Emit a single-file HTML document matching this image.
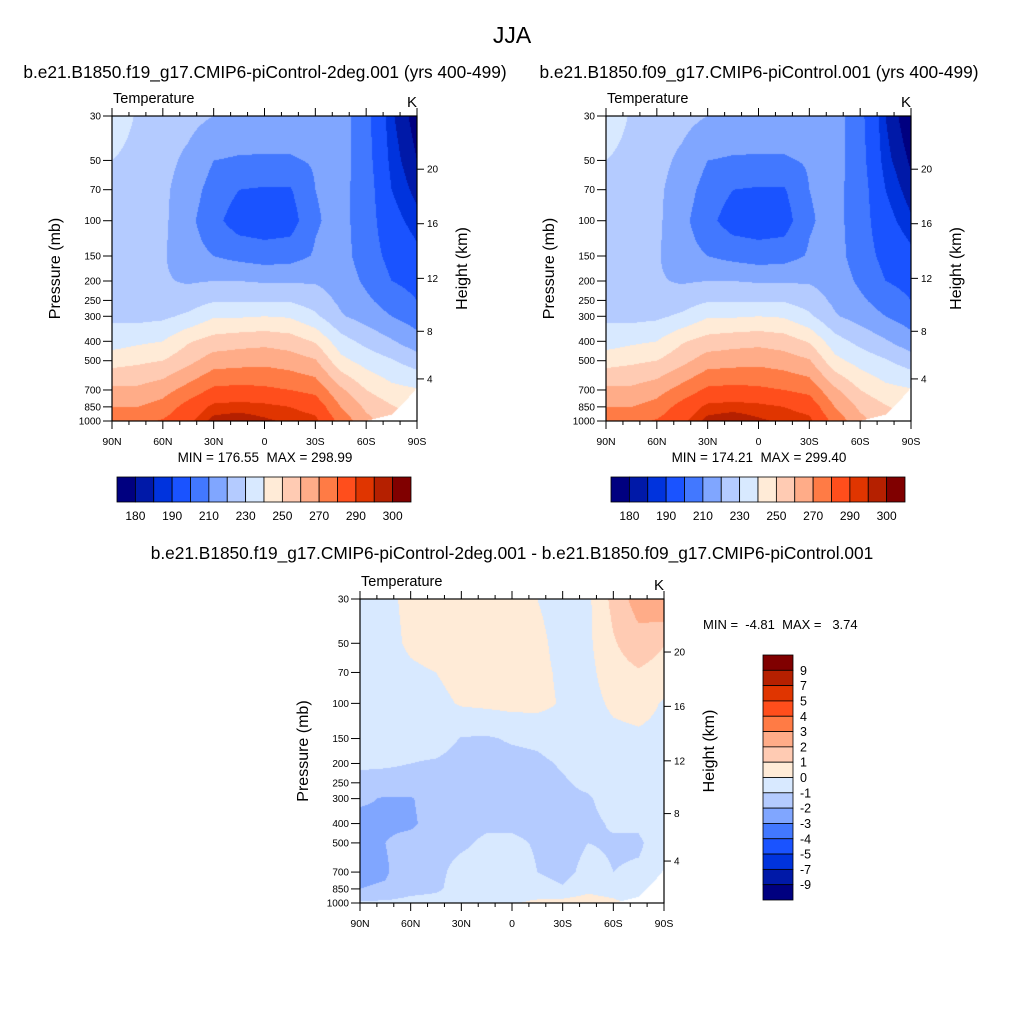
<!DOCTYPE html>
<html><head><meta charset="utf-8">
<style>
html,body{margin:0;padding:0;background:#fff;}
#root{position:relative;width:1024px;height:1024px;overflow:hidden;font-family:"Liberation Sans",sans-serif;}
canvas{position:absolute;}
svg{position:absolute;left:0;top:0;}
</style></head>
<body>
<div id="root">
<canvas id="cA" width="305" height="305" style="left:112px;top:116px"></canvas>
<canvas id="cB" width="305" height="305" style="left:606px;top:116px"></canvas>
<canvas id="cC" width="304" height="304" style="left:360px;top:599px"></canvas>
<svg id="ov" width="1024" height="1024" font-family="Liberation Sans, sans-serif">
<text x="512" y="43" font-size="23" text-anchor="middle">JJA</text>
<text x="265" y="78" font-size="17.3" text-anchor="middle">b.e21.B1850.f19_g17.CMIP6-piControl-2deg.001 (yrs 400-499)</text>
<text x="759" y="78" font-size="17.3" text-anchor="middle">b.e21.B1850.f09_g17.CMIP6-piControl.001 (yrs 400-499)</text>
<text x="512" y="559" font-size="17.3" text-anchor="middle">b.e21.B1850.f19_g17.CMIP6-piControl-2deg.001 - b.e21.B1850.f09_g17.CMIP6-piControl.001</text>
<text x="265" y="462" font-size="13.5" text-anchor="middle" xml:space="preserve">MIN = 176.55  MAX = 298.99</text>
<text x="759" y="462" font-size="13.5" text-anchor="middle" xml:space="preserve">MIN = 174.21  MAX = 299.40</text>
<text x="703" y="629" font-size="13" xml:space="preserve">MIN =  -4.81  MAX =   3.74</text>
</svg>
</div>
<script>
// ---- data ----
const lats = [90,75,60,45,30,15,0,-15,-30,-45,-60,-75,-90];
const plevs = [30,50,70,100,150,200,250,300,400,500,700,850,1000];
const tempA = [
[236,229,224,223,220,217,216,216,216,215,203,186,177],
[230,227,223,218,210,209,209,209,211,214,204,188,180],
[228,225,222,215,206,200,199,199,210,213,205,190,183],
[226,224,222,213,203,195,194,195,209,213,205,193,187],
[225,223,221,214,210,207,205,206,211,214,205,197,192],
[225,223,221,219,220,220,219,219,219,216,208,200,197],
[226,224,223,225,229,229,229,229,225,218,212,205,200],
[228,227,228,232,239,239,240,239,232,221,216,210,205],
[235,238,240,249,254,256,257,255,249,234,227,221,214],
[246,248,250,257,265,266,267,265,261,243,236,231,225],
[262,262,266,274,282,283,282,280,277,262,250,243,241],
[270,270,274,284,292,293,292,290,287,270,258,251,245],
[276,277,281,288,297,298,296,294,292,277,263,255,250]];
const tempB = [
[236,229,224,223,220,217,216,216,216,215,203,185,175],
[230,227,223,218,210,209,209,209,211,214,204,187,179],
[228,225,222,215,206,200,199,199,210,213,205,190,182],
[226,224,222,213,203,195,194,195,209,213,205,193,186],
[225,223,221,214,210,207,205,206,211,214,205,197,192],
[225,223,221,219,220,220,219,219,219,216,208,200,197],
[226,224,223,225,229,229,229,229,225,218,212,205,200],
[228,227,228,232,239,239,240,239,232,221,216,210,205],
[235,238,240,249,254,256,257,255,249,234,227,221,214],
[246,248,250,257,265,266,267,265,261,243,236,231,225],
[262,262,266,274,282,283,282,280,277,262,250,243,241],
[270,270,274,284,292,293,292,290,287,270,258,251,245],
[276,277,281,288,297,298.5,296,294,292,277,263,255,250]];
const diffC = [
[-0.5,-0.3,0.3,0.5,0.6,0.7,0.5,0.0,-0.5,-0.2,1.3,2.5,3.0],
[-0.5,-0.4,0.2,0.5,0.6,0.6,0.5,0.3,-0.4,-0.2,0.9,1.6,1.05],
[-0.4,-0.5,-0.2,0.0,0.4,0.5,0.5,0.3,-0.2,-0.3,0.6,0.9,0.6],
[-0.4,-0.5,-0.4,-0.3,0.1,0.2,0.3,0.3,-0.1,-0.4,0.2,0.4,-0.1],
[-0.5,-0.6,-0.6,-0.6,-1.05,-1.1,-0.9,-0.8,-0.5,-0.5,-0.3,-0.2,-0.3],
[-0.8,-0.9,-1.0,-1.1,-1.3,-1.3,-1.3,-1.2,-0.9,-0.6,-0.4,-0.3,-0.4],
[-1.4,-1.3,-1.3,-1.3,-1.4,-1.4,-1.4,-1.3,-1.1,-0.8,-0.5,-0.4,-0.5],
[-1.8,-2.1,-2.1,-1.4,-1.4,-1.4,-1.3,-1.3,-1.2,-1.1,-0.6,-0.5,-0.5],
[-2.4,-2.2,-2.2,-1.5,-1.3,-1.2,-1.2,-1.3,-1.4,-1.2,-0.9,-0.9,-0.5],
[-2.3,-2.0,-1.6,-1.4,-1.2,-0.8,-0.8,-1.1,-1.4,-1.0,-1.1,-1.1,-0.6],
[-2.2,-2.1,-1.5,-1.3,-0.6,-0.5,-0.5,-1.0,-1.3,-0.7,-1.0,-0.9,-0.7],
[-2.0,-1.9,-1.4,-1.2,-0.5,-0.4,-0.4,-0.6,-0.9,-0.3,-0.6,-0.7,-0.7],
[-0.8,-0.8,-0.6,-0.5,-0.5,-0.3,-0.1,0.2,0.4,0.6,0.3,-0.5,-0.5]];
const surfLats = [-60,-75,-90];
const surfPres = [1000,930,680];
const tempLevels = [180,185,190,200,210,220,230,240,250,260,270,280,290,295,300];
const diffLevels = [-9,-7,-5,-4,-3,-2,-1,0,1,2,3,4,5,7,9];
const tempLabels = ["180","190","210","230","250","270","290","300"];
const diffLabels = ["9","7","5","4","3","2","1","0","-1","-2","-3","-4","-5","-7","-9"];
const fillColors = ["#000080","#0019a8","#0033dd","#1a53ff","#4278ff","#80a6ff","#b4cbff","#d8e9ff","#ffebd7","#ffcbb3","#ffac88","#ff7b45","#ff4e1c","#e03500","#b52000","#800000"];
const pTicks = [30,50,70,100,150,200,250,300,400,500,700,850,1000];
const latTicks = [90,60,30,0,-30,-60,-90];
const latTickLabels = ["90N","60N","30N","0","30S","60S","90S"];
const kmTicks = [4,8,12,16,20];
const kmTickPres = [616.4,356.5,194.0,103.5,55.3];

const NS='http://www.w3.org/2000/svg';
const ov=document.getElementById('ov');
function mk(tag,attrs,parent){const e=document.createElementNS(NS,tag);for(const k in attrs)e.setAttribute(k,attrs[k]);(parent||ov).appendChild(e);return e;}

function surfAt(lat){
  if(lat>=surfLats[0])return 1000;
  for(let i=0;i<surfLats.length-1;i++){
    if(lat<=surfLats[i]&&lat>=surfLats[i+1]){const t=(surfLats[i]-lat)/(surfLats[i]-surfLats[i+1]);return surfPres[i]+t*(surfPres[i+1]-surfPres[i]);}
  }
  return surfPres[surfPres.length-1];
}
function levelIndex(v,lv){let k=0;while(k<lv.length&&v>=lv[k])k++;return k;}
function hex(c){return [parseInt(c.substr(1,2),16),parseInt(c.substr(3,2),16),parseInt(c.substr(5,2),16)];}
const rgb=fillColors.map(hex);
const lp=plevs.map(p=>Math.log10(p));

function fillCanvas(id,grid,lv){
  const cv=document.getElementById(id),ctx=cv.getContext('2d');
  const W=cv.width,H=cv.height,img=ctx.createImageData(W,H);
  const l0=Math.log10(30),l1=Math.log10(1000);
  for(let y=0;y<H;y++){
    const L=l0+(y+0.5)/H*(l1-l0);
    let j=0;while(j<lp.length-2&&L>lp[j+1])j++;
    const ty=(L-lp[j])/(lp[j+1]-lp[j]);
    const p=Math.pow(10,L);
    for(let x=0;x<W;x++){
      const lat=90-(x+0.5)/W*180;
      const fi=(90-lat)/15;let i=Math.min(Math.floor(fi),lats.length-2);const tx=fi-i;
      const o=(y*W+x)*4;
      if(p>surfAt(lat)){img.data[o]=255;img.data[o+1]=255;img.data[o+2]=255;img.data[o+3]=255;continue;}
      const v=(1-ty)*((1-tx)*grid[j][i]+tx*grid[j][i+1])+ty*((1-tx)*grid[j+1][i]+tx*grid[j+1][i+1]);
      const c=rgb[levelIndex(v,lv)];
      img.data[o]=c[0];img.data[o+1]=c[1];img.data[o+2]=c[2];img.data[o+3]=255;
    }
  }
  ctx.putImageData(img,0,0);
}
fillCanvas('cA',tempA,tempLevels);
fillCanvas('cB',tempB,tempLevels);
fillCanvas('cC',diffC,diffLevels);

function axes(px,py,w,h,tag){
  const yOf=p=>py+h*Math.log10(p/30)/Math.log10(1000/30);
  const xOf=lat=>px+(90-lat)/180*w;
  const g=mk('g',{});
  
  
  mk('rect',{x:px,y:py,width:w,height:h,fill:'none',stroke:'#000','stroke-width':1.2},g);
  pTicks.forEach(p=>{
    const y=yOf(p);
    mk('line',{x1:px-9,y1:y,x2:px,y2:y,stroke:'#000','stroke-width':1},g);
    const t=mk('text',{x:px-11,y:y+3.5,'font-size':10,'text-anchor':'end'},g);t.textContent=p;
    
    
  });
  kmTickPres.forEach((p,k)=>{
    const y=yOf(p);
    mk('line',{x1:px+w,y1:y,x2:px+w+7,y2:y,stroke:'#000','stroke-width':1},g);
    const t=mk('text',{x:px+w+10,y:y+3.5,'font-size':10},g);t.textContent=kmTicks[k];
    
    
  });
  for(let lat=90;lat>=-90;lat-=10){
    const x=xOf(lat),major=(lat%30===0);
    const L=major?8:4;
    mk('line',{x1:x,y1:py+h,x2:x,y2:py+h+L,stroke:'#000','stroke-width':1},g);
    mk('line',{x1:x,y1:py,x2:x,y2:py-L,stroke:'#000','stroke-width':1},g);
  }
  latTicks.forEach((lat,k)=>{
    const t=mk('text',{x:xOf(lat),y:py+h+24,'font-size':10.5,'text-anchor':'middle'},g);t.textContent=latTickLabels[k];
    
    
  });
  let t=mk('text',{x:px+1,y:py-13,'font-size':14.5},g);t.textContent='Temperature';
  
  
  t=mk('text',{x:px+w,y:py-9,'font-size':15,'text-anchor':'end'},g);t.textContent='K';
  
  
  const cy=py+h/2;
  t=mk('text',{x:px-52,y:cy,'font-size':16,'text-anchor':'middle',transform:`rotate(-90 ${px-52} ${cy})`},g);t.textContent='Pressure (mb)';
  
  
  t=mk('text',{x:px+w+50,y:cy,'font-size':16,'text-anchor':'middle',transform:`rotate(-90 ${px+w+50} ${cy})`},g);t.textContent='Height (km)';
  
  
}
axes(112,116,305,305,'left');
axes(606,116,305,305,'right');
axes(360,599,304,304,'difference');

function hbar(x0,y0,w,h,tag){
  const g=mk('g',{});
  
  
  const bw=w/fillColors.length;
  fillColors.forEach((c,k)=>{
    const r=mk('rect',{x:x0+k*bw,y:y0,width:bw,height:h,fill:c,stroke:'#000','stroke-width':0.8},g);
    
    
  });
  tempLabels.forEach((s,k)=>{
    const t=mk('text',{x:x0+(2*k+1)*bw,y:y0+h+18,'font-size':12,'text-anchor':'middle'},g);t.textContent=s;
    
    
  });
}
hbar(117,477,294,25,'left');
hbar(611,477,294,25,'right');

(function(){
  const x0=763,y0=655,w=30,h=245;
  const g=mk('g',{});
  
  
  const bh=h/fillColors.length;
  for(let k=0;k<fillColors.length;k++){
    const r=mk('rect',{x:x0,y:y0+k*bh,width:w,height:bh,fill:fillColors[fillColors.length-1-k],stroke:'#000','stroke-width':0.8},g);
    
    
  }
  diffLabels.forEach((s,k)=>{
    const t=mk('text',{x:x0+w+7,y:y0+(k+1)*bh+4.5,'font-size':12.5},g);t.textContent=s;
    
    
  });
})();
</script>
</body></html>
